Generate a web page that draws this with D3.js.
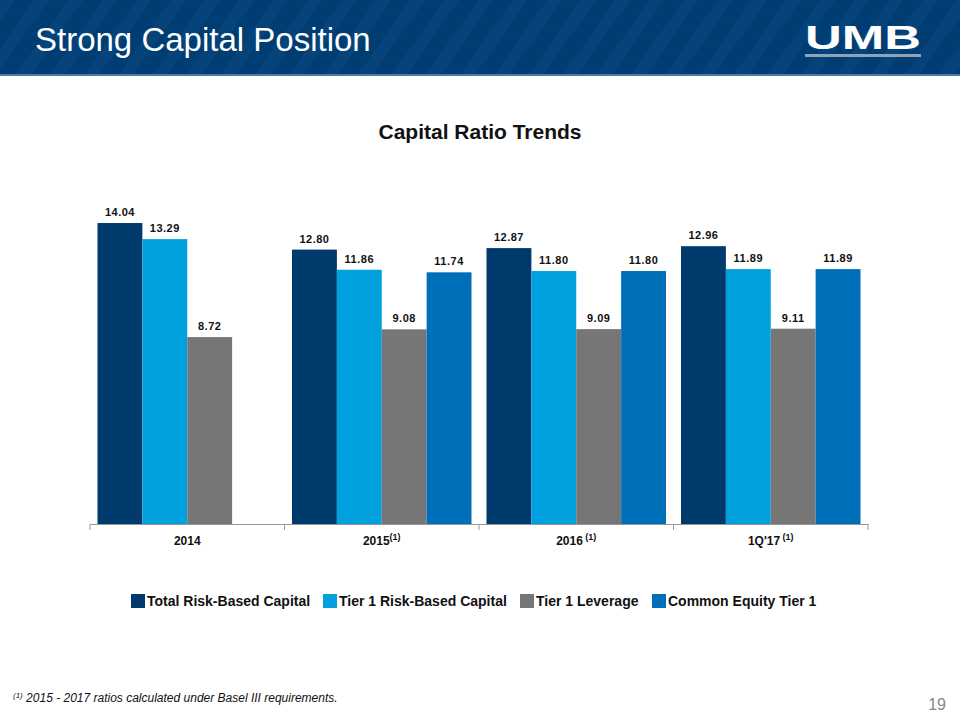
<!DOCTYPE html>
<html><head><meta charset="utf-8">
<script src="https://cdn.jsdelivr.net/npm/d3@7"></script>
<style>body{margin:0;background:#fff}svg{display:block;font-family:"Liberation Sans",Arial,sans-serif}</style>
</head><body><svg id="c" width="960" height="720"></svg>
<script>
const categories = ["2014", "2015", "2016", "1Q'17"];
const categorySup = ["", "(1)", " (1)", " (1)"];
const seriesNames = ["Total Risk-Based Capital", "Tier 1 Risk-Based Capital", "Tier 1 Leverage", "Common Equity Tier 1"];
const totalRiskBased = [14.04, 12.80, 12.87, 12.96];
const tier1RiskBased = [13.29, 11.86, 11.80, 11.89];
const tier1Leverage = [8.72, 9.08, 9.09, 9.11];
const commonEquityTier1 = [null, 11.74, 11.80, 11.89];
const seriesColors = ["#003A6C", "#00A1DE", "#767676", "#006FBA"];

const svg = d3.select("#c");
const defs = svg.append("defs");
const pat = defs.append("pattern").attr("id","stripes").attr("patternUnits","userSpaceOnUse")
  .attr("width",28).attr("height",28).attr("patternTransform","rotate(35)");
pat.append("rect").attr("width",28).attr("height",28).attr("fill","#003D72");
pat.append("rect").attr("width",12).attr("height",28).attr("fill","#0A4A82").attr("opacity",0.5);
svg.append("rect").attr("x",0).attr("y",0).attr("width",960).attr("height",76).attr("fill","url(#stripes)");
svg.append("rect").attr("x",0).attr("y",74).attr("width",960).attr("height",2).attr("fill","#4E7AA3");
svg.append("text").attr("x",35).attr("y",51).attr("fill","#fff").attr("font-size",33).text("Strong Capital Position");
svg.append("text").attr("x",863).attr("y",49).attr("fill","#fff").attr("font-size",33).attr("font-weight","900")
  .attr("text-anchor","middle").attr("textLength",116).attr("lengthAdjust","spacingAndGlyphs").text("UMB");
svg.append("rect").attr("x",805).attr("y",54).attr("width",116).attr("height",3).attr("fill","#8FA3B8");

svg.append("text").attr("x",480).attr("y",139).attr("text-anchor","middle").attr("font-size",21).attr("font-weight","bold")
  .attr("fill","#111").text("Capital Ratio Trends");

const x0 = d3.scaleBand().domain(categories).range([90, 868]).paddingInner(0).paddingOuter(0);
const x1 = d3.scaleBand().domain(d3.range(4)).range([7.5, x0.bandwidth()-7.5]).padding(0);
const y = d3.scaleLinear().domain([0, 16]).range([524, 181]);

const series = [totalRiskBased, tier1RiskBased, tier1Leverage, commonEquityTier1];
const g = svg.append("g");
categories.forEach((c, ci) => {
  series.forEach((s, si) => {
    const v = s[ci];
    if (v == null) return;
    const bx = x0(c) + x1(si);
    g.append("rect").attr("x", bx).attr("y", y(v)).attr("width", x1.bandwidth()).attr("height", y(0)-y(v))
      .attr("fill", seriesColors[si]);
    g.append("text").attr("x", bx + x1.bandwidth()/2).attr("y", y(v)-7).attr("text-anchor","middle")
      .attr("font-size",11).attr("font-weight","bold").attr("letter-spacing",0.5).attr("fill","#111").text(v.toFixed(2));
  });
});

const ax = svg.append("g").attr("transform","translate(0,524)")
  .call(d3.axisBottom(x0).tickSize(0).tickFormat(""));
ax.select(".domain").attr("stroke","#999");
const edges = categories.map(c => x0(c)).concat([x0.range()[1]]);
edges.forEach(e => svg.append("line").attr("x1",e).attr("x2",e).attr("y1",524).attr("y2",530).attr("stroke","#999"));
categories.forEach((c, i) => {
  const t = svg.append("text").attr("x", x0(c)+x0.bandwidth()/2).attr("y",545).attr("text-anchor","middle")
    .attr("font-size",12).attr("font-weight","bold").attr("fill","#111");
  t.append("tspan").text(c);
  if (categorySup[i]) t.append("tspan").attr("dy",-5).attr("font-size",9).text(categorySup[i]);
});

const legendX = [131, 323, 520, 652];
seriesNames.forEach((n, i) => {
  svg.append("rect").attr("x",legendX[i]).attr("y",594).attr("width",14).attr("height",14).attr("fill",seriesColors[i]);
  svg.append("text").attr("x",legendX[i]+16).attr("y",606).attr("font-size",14).attr("font-weight","bold")
    .attr("fill","#111").text(n);
});

const fn = svg.append("text").attr("x",13).attr("y",702).attr("font-size",12).attr("font-style","italic").attr("fill","#111");
fn.append("tspan").attr("font-size",8).attr("dy",-4).text("(1)");
fn.append("tspan").attr("dy",4).text(" 2015 - 2017 ratios calculated under Basel III requirements.");
svg.append("text").attr("x",946).attr("y",710).attr("text-anchor","end").attr("font-size",16).attr("fill","#888").text("19");
</script></body></html>
